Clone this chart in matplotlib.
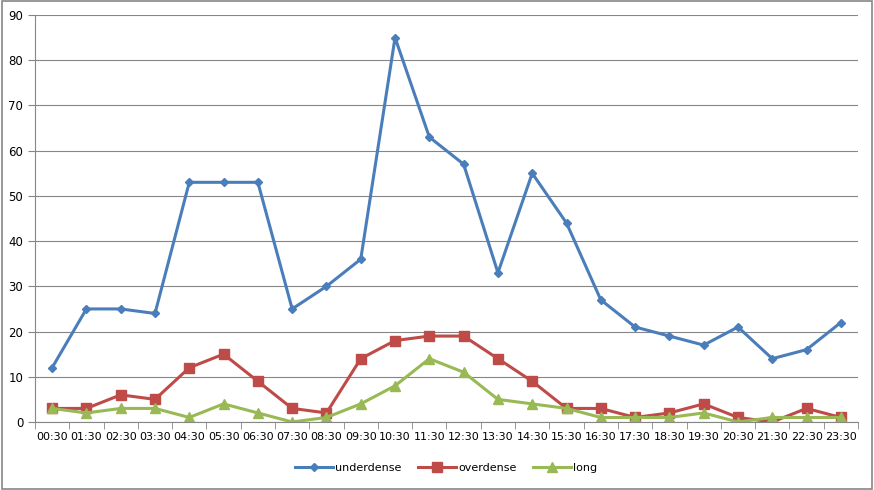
import matplotlib
matplotlib.use("Agg")
import matplotlib.pyplot as plt
import numpy as np

# data
hours = ["00:30", "01:30", "02:30", "03:30", "04:30", "05:30", "06:30", "07:30",
         "08:30", "09:30", "10:30", "11:30", "12:30", "13:30", "14:30", "15:30",
         "16:30", "17:30", "18:30", "19:30", "20:30", "21:30", "22:30", "23:30"]
underdense = [12, 25, 25, 24, 53, 53, 53, 25, 30, 36, 85, 63, 57, 33, 55, 44,
              27, 21, 19, 17, 21, 14, 16, 22]
overdense = [3, 3, 6, 5, 12, 15, 9, 3, 2, 14, 18, 19, 19, 14, 9, 3,
             3, 1, 2, 4, 1, 0, 3, 1]
long_ = [3, 2, 3, 3, 1, 4, 2, 0, 1, 4, 8, 14, 11, 5, 4, 3,
         1, 1, 1, 2, 0, 1, 1, 1]

plt.rcParams['font.family'] = ['DejaVu Sans']

fig = plt.figure(figsize=(8.74, 4.90), dpi=100)
ax = fig.add_axes([0.040, 0.1388, 0.9417, 0.8306])

x = np.arange(len(hours))
ax.plot(x, underdense, color="#4a7ebb", lw=2.2, marker="D", ms=4.5, label="underdense")
ax.plot(x, overdense, color="#be4b48", lw=2.2, marker="s", ms=6.5, label="overdense")
ax.plot(x, long_, color="#98b954", lw=2.2, marker="^", ms=7, label="long")

ax.set_xlim(-0.5, len(hours) - 0.5)
ax.set_ylim(0, 90)
ax.set_yticks(range(0, 91, 10))
ax.yaxis.grid(True, color="#868686", lw=0.8)
ax.set_axisbelow(True)

ax.set_xticks(x)
ax.set_xticklabels(hours, fontsize=8)
ax.set_xticks(np.arange(-0.5, len(hours)), minor=True)
ax.tick_params(axis="x", which="major", length=0, pad=7)
ax.tick_params(axis="x", which="minor", length=5, color="#868686")
ax.tick_params(axis="y", labelsize=8.5, length=5, color="#868686", direction="out")

for side in ["top", "right"]:
    ax.spines[side].set_visible(False)
ax.spines["left"].set_color("#868686")
ax.spines["bottom"].set_color("#868686")

ax.legend(loc="upper center", bbox_to_anchor=(0.5, -0.075), ncol=3, frameon=False,
          fontsize=8, handlelength=3.4, columnspacing=1.5, handletextpad=0.2)

# outer chart border
fig.patches.append(plt.Rectangle((0.002, 0.003), 0.996, 0.994, transform=fig.transFigure,
                                 fill=False, edgecolor="#868686", lw=1.2))

fig.savefig("out.png", dpi=100)
